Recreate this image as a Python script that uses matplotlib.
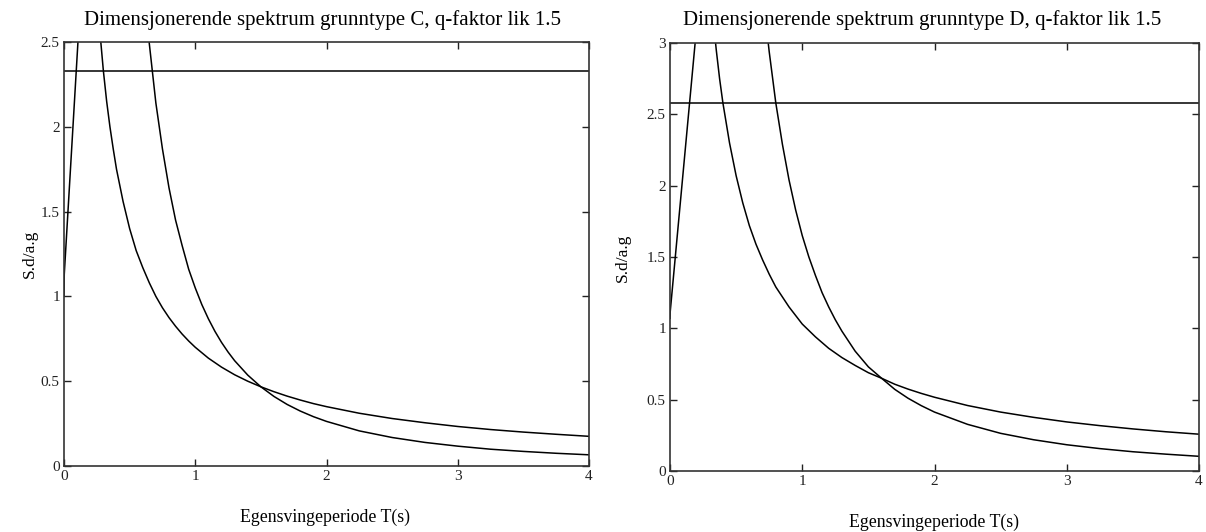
import matplotlib
matplotlib.use('Agg')
import matplotlib.pyplot as plt

plt.rcParams['font.family'] = ['Liberation Serif', 'DejaVu Serif']

# ---- grunntype C ----
cRiseT  = [0.0, 0.002, 0.12]
cRiseS  = [1.0, 1.13, 2.68]
cPlat   = 2.33
cDecT   = [0.25, 0.27, 0.3, 0.325, 0.35, 0.375, 0.4, 0.45, 0.5, 0.55, 0.6, 0.65, 0.7, 0.75, 0.8, 0.85, 0.9, 0.95, 1.0,
           1.1, 1.2, 1.3, 1.4, 1.5, 1.6, 1.7, 1.8, 1.9, 2.0, 2.25, 2.5, 2.75, 3.0, 3.25, 3.5, 3.75, 4.0]
cDecS   = [2.80, 2.59, 2.33, 2.15, 2.00, 1.87, 1.75, 1.56, 1.40, 1.27, 1.17, 1.08, 1.00, 0.933, 0.875, 0.824, 0.778, 0.737, 0.70,
           0.636, 0.583, 0.538, 0.50, 0.467, 0.438, 0.412, 0.389, 0.368, 0.35, 0.311, 0.28, 0.255, 0.233, 0.215, 0.20, 0.187, 0.175]
cSteepT = [0.62, 0.65, 0.7, 0.75, 0.8, 0.85, 0.9, 0.95, 1.0, 1.05, 1.1, 1.15, 1.2, 1.25, 1.3, 1.4, 1.5, 1.6, 1.7, 1.8, 1.9, 2.0,
           2.25, 2.5, 2.75, 3.0, 3.25, 3.5, 3.75, 4.0]
cSteepS = [2.73, 2.49, 2.14, 1.87, 1.64, 1.45, 1.30, 1.16, 1.05, 0.952, 0.868, 0.794, 0.729, 0.672, 0.621, 0.536, 0.467, 0.41,
           0.363, 0.324, 0.291, 0.263, 0.207, 0.168, 0.139, 0.117, 0.099, 0.086, 0.075, 0.066]

# ---- grunntype D ----
dRiseT  = [0.0, 0.002, 0.21]
dRiseS  = [1.07, 1.12, 3.2]
dPlat   = 2.58
dDecT   = [0.33, 0.35, 0.375, 0.4, 0.45, 0.5, 0.55, 0.6, 0.65, 0.7, 0.75, 0.8, 0.85, 0.9, 0.95, 1.0,
           1.1, 1.2, 1.3, 1.4, 1.5, 1.6, 1.7, 1.8, 1.9, 2.0, 2.25, 2.5, 2.75, 3.0, 3.25, 3.5, 3.75, 4.0]
dDecS   = [3.13, 2.95, 2.75, 2.58, 2.30, 2.07, 1.88, 1.72, 1.59, 1.48, 1.38, 1.29, 1.22, 1.15, 1.09, 1.03,
           0.94, 0.86, 0.795, 0.74, 0.689, 0.65, 0.608, 0.574, 0.544, 0.517, 0.459, 0.413, 0.376, 0.344, 0.318, 0.295, 0.275, 0.258]
dSteepT = [0.72, 0.75, 0.8, 0.85, 0.9, 0.95, 1.0, 1.05, 1.1, 1.15, 1.2, 1.25, 1.3, 1.4, 1.5, 1.6, 1.7, 1.8, 1.9, 2.0,
           2.25, 2.5, 2.75, 3.0, 3.25, 3.5, 3.75, 4.0]
dSteepS = [3.19, 2.94, 2.58, 2.29, 2.04, 1.83, 1.65, 1.50, 1.37, 1.25, 1.15, 1.06, 0.98, 0.84, 0.73, 0.65, 0.572,
           0.51, 0.458, 0.413, 0.327, 0.264, 0.219, 0.184, 0.157, 0.135, 0.118, 0.103]

titles = ['Dimensjonerende spektrum grunntype C, q-faktor lik 1.5',
          'Dimensjonerende spektrum grunntype D, q-faktor lik 1.5']
xTicks = [0, 1, 2, 3, 4]
cYTicks = [0, 0.5, 1, 1.5, 2, 2.5]
dYTicks = [0, 0.5, 1, 1.5, 2, 2.5, 3]

fig = plt.figure(figsize=(12.06, 5.32), dpi=100)
axC = fig.add_axes([64/1206, 1-466/532, 525/1206, 424/532])
axD = fig.add_axes([670/1206, 1-471/532, 529/1206, 428/532])

def drawPanel(ax, riseT, riseS, plat, decT, decS, steepT, steepS, ymax, yticks):
    lw = 1.1
    ax.plot(riseT, riseS, color='k', lw=lw)
    ax.axhline(plat, color='k', lw=lw)
    ax.plot(decT, decS, color='k', lw=lw)
    ax.plot(steepT, steepS, color='k', lw=lw)
    ax.set_xlim(0, 4)
    ax.set_ylim(0, ymax)
    ax.set_xticks(xTicks)
    ax.set_xticklabels([str(t) for t in xTicks])
    ax.set_yticks(yticks)
    ax.set_yticklabels(['%g' % t for t in yticks])
    ax.tick_params(direction='in', top=True, right=True, length=5, width=1,
                   labelsize=11, colors='#222222', pad=3)
    for s in ax.spines.values():
        s.set_linewidth(1.2)
        s.set_color('#333333')

drawPanel(axC, cRiseT, cRiseS, cPlat, cDecT, cDecS, cSteepT, cSteepS, 2.5, cYTicks)
drawPanel(axD, dRiseT, dRiseS, dPlat, dDecT, dDecS, dSteepT, dSteepS, 3, dYTicks)

fig.text(322/1206, 1-20/532, titles[0], ha='center', va='center', fontsize=15)
fig.text(922/1206, 1-20/532, titles[1], ha='center', va='center', fontsize=15)
fig.text(325/1206, 1-517/532, 'Egensvingeperiode T(s)', ha='center', va='center', fontsize=12.8)
fig.text(934/1206, 1-522/532, 'Egensvingeperiode T(s)', ha='center', va='center', fontsize=12.8)
fig.text(30/1206, 1-254/532, 'S.d/a.g', ha='center', va='center', rotation=90, fontsize=12.5)
fig.text(623/1206, 1-258/532, 'S.d/a.g', ha='center', va='center', rotation=90, fontsize=12.5)

fig.savefig('out.png', dpi=100)
